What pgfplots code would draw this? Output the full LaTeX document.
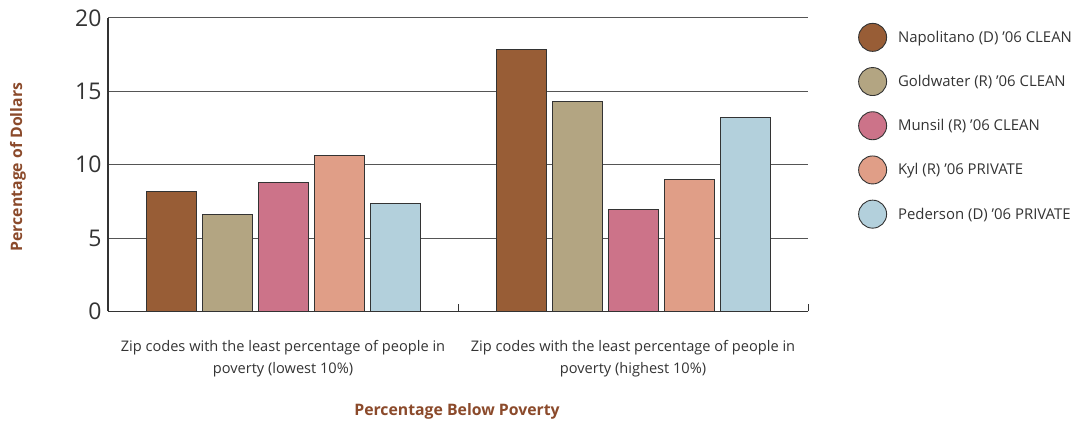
\documentclass[border=0pt]{standalone}
\usepackage{fontspec}
\setmainfont{Open Sans}
\usepackage{pgfplots}
\pgfplotsset{compat=1.18}

\definecolor{napo}{HTML}{985D36}
\definecolor{gold}{HTML}{B3A582}
\definecolor{muns}{HTML}{CC7389}
\definecolor{kyl}{HTML}{E09E87}
\definecolor{peder}{HTML}{B3D0DC}
\definecolor{labelbrown}{HTML}{8B4A2B}
\definecolor{txt}{HTML}{333333}
\definecolor{gridc}{HTML}{555555}

\begin{document}
\begin{tikzpicture}
\useasboundingbox (0,0) rectangle (1088pt,423pt);
\begin{axis}[
  at={(108pt,111.5pt)}, anchor=south west,
  scale only axis, width=700pt, height=293.5pt,
  ybar=6pt, bar width=50pt,
  xmin=-0.5, xmax=1.5, ymin=0, ymax=20,
  axis x line=bottom, axis y line=left,
  axis line style={-, line width=1.2pt, color=txt},
  xtick={0,1},
  xticklabels={Zip codes with the least percentage of people in\\poverty (lowest 10\%),
               Zip codes with the least percentage of people in\\poverty (highest 10\%)},
  minor xtick={-0.5,0.5,1.5},
  major tick length=0pt, minor tick length=7pt, tick align=inside,
  minor tick style={line width=1pt, color=txt},
  ytick={0,5,10,15,20},
  ymajorgrids, grid style={line width=1pt, color=gridc},
  /pgf/number format/assume math mode=true,
  yticklabel style={font=\fontsize{23}{23}\selectfont, text=txt, xshift=-3pt},
  xticklabel style={font=\fontsize{14.6}{22}\selectfont, text=txt, align=center, yshift=-25pt},
  ylabel={\bfseries Percentage of Dollars},
  ylabel style={at={(axis description cs:-0.1286,0.492)}, anchor=center, rotate=0,
    font=\fontsize{15.8}{18}\selectfont, text=labelbrown},
  xlabel={\bfseries Percentage Below Poverty},
  xlabel style={at={(axis description cs:0.4986,-0.342)}, anchor=center,
    font=\fontsize{15.8}{18}\selectfont, text=labelbrown},
  every axis plot/.append style={draw=txt, line width=1pt},
  legend image code/.code={\draw[#1, draw=txt, line width=0.9pt] (14pt,0pt) circle (14pt);},
  legend cell align=left,
  legend style={at={(axis description cs:1.0714,0.984)}, anchor=north west,
    draw=none, fill=none, inner sep=0pt, row sep=15.3pt, column sep=9pt,
    font=\fontsize{14.9}{17}\selectfont, text=txt},
]
\addplot[fill=napo]  coordinates {(0,8.16) (1,17.87)};
\addplot[fill=gold]  coordinates {(0,6.58) (1,14.34)};
\addplot[fill=muns]  coordinates {(0,8.82) (1,6.98)};
\addplot[fill=kyl]   coordinates {(0,10.64) (1,9.01)};
\addplot[fill=peder] coordinates {(0,7.35) (1,13.23)};
\legend{Napolitano (D) ’06 CLEAN, Goldwater (R) ’06 CLEAN, Munsil (R) ’06 CLEAN,
        Kyl (R) ’06 PRIVATE, Pederson (D) ’06 PRIVATE}
\end{axis}
\end{tikzpicture}
\end{document}
